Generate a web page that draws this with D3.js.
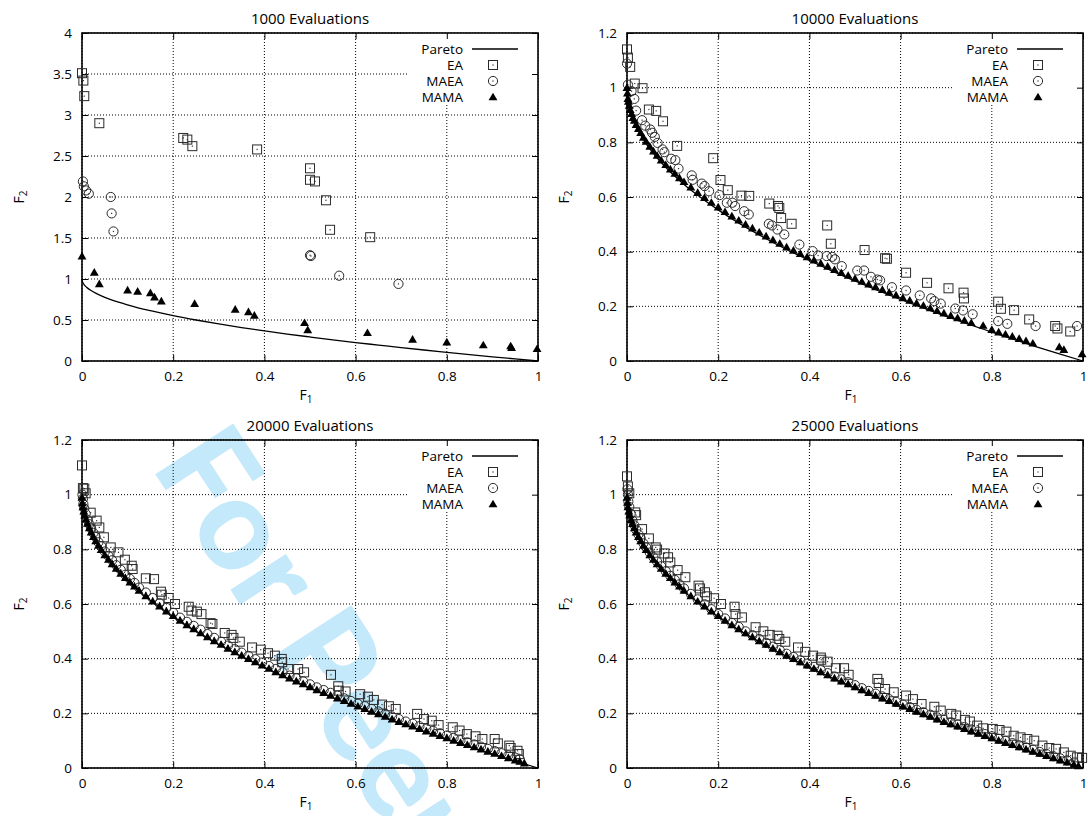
<!DOCTYPE html>
<html>
<head>
<meta charset="utf-8">
<script src="https://cdn.jsdelivr.net/npm/d3@7"></script>
<style>
  body { margin: 0; background: #fff; }
  svg { display: block; font-family: "Open Sans", sans-serif; }
</style>
</head>
<body>
<svg id="chart" width="1088" height="816"></svg>
<script>
// ---- data ----
const xTicks = [0, 0.2, 0.4, 0.6, 0.8, 1];
const yTicksWide = [0, 0.5, 1, 1.5, 2, 2.5, 3, 3.5, 4];
const yTicksNarrow = [0, 0.2, 0.4, 0.6, 0.8, 1, 1.2];
const titles = ["1000 Evaluations", "10000 Evaluations", "20000 Evaluations", "25000 Evaluations"];
const legendNames = ["Pareto", "EA", "MAEA", "MAMA"];

// true front, same in every panel
const pareto = [[0,1],[0.001,0.968],[0.003,0.945],[0.005,0.929],[0.01,0.9],[0.02,0.859],[0.03,0.827],[0.04,0.8],
  [0.06,0.755],[0.08,0.717],[0.1,0.684],[0.125,0.646],[0.15,0.613],[0.2,0.553],[0.25,0.5],[0.3,0.452],[0.35,0.408],
  [0.4,0.368],[0.45,0.329],[0.5,0.293],[0.55,0.258],[0.6,0.225],[0.65,0.194],[0.7,0.163],[0.75,0.134],[0.8,0.106],
  [0.85,0.078],[0.9,0.051],[0.95,0.025],[1,0]];

// 1000 evaluations
const ea1000 = [[0,3.51],[0.003,3.42],[0.005,3.23],[0.038,2.9],[0.222,2.72],[0.231,2.70],[0.242,2.62],[0.384,2.58],
  [0.5,2.35],[0.5,2.21],[0.511,2.19],[0.535,1.96],[0.544,1.6],[0.632,1.51]];
const maea1000 = [[0.002,2.19],[0.004,2.13],[0.009,2.08],[0.015,2.04],[0.063,2.0],[0.065,1.8],[0.069,1.58],
  [0.5,1.29],[0.502,1.28],[0.564,1.04],[0.694,0.94]];
const mama1000 = [[0,1.28],[0.027,1.08],[0.038,0.94],[0.1,0.865],[0.122,0.85],[0.15,0.83],[0.159,0.78],[0.174,0.73],
  [0.247,0.70],[0.336,0.63],[0.365,0.60],[0.378,0.556],[0.488,0.467],[0.495,0.38],[0.626,0.345],[0.725,0.264],
  [0.8,0.23],[0.88,0.195],[0.94,0.183],[0.942,0.162],[0.998,0.15]];

// 10000 evaluations
const ea10000 = [[0,1.14],[0.002,1.11],[0.007,1.076],[0.017,1.015],[0.034,0.998],[0.048,0.92],[0.064,0.915],
  [0.079,0.877],[0.11,0.787],[0.189,0.742],[0.205,0.662],[0.221,0.625],[0.251,0.605],[0.268,0.604],[0.312,0.576],
  [0.331,0.567],[0.334,0.56],[0.338,0.523],[0.361,0.502],[0.439,0.496],[0.447,0.429],[0.521,0.406],[0.566,0.376],
  [0.57,0.374],[0.612,0.323],[0.658,0.286],[0.705,0.266],[0.738,0.25],[0.739,0.229],[0.814,0.217],[0.82,0.191],
  [0.849,0.186],[0.882,0.152],[0.939,0.128],[0.944,0.119],[0.972,0.108]];
const maea10000 = [[0,1.088],[0.002,1.011],[0.01,0.987],[0.016,0.959],[0.02,0.916],[0.033,0.881],[0.04,0.861],
  [0.051,0.847],[0.055,0.835],[0.061,0.82],[0.067,0.798],[0.078,0.774],[0.082,0.764],[0.097,0.74],[0.106,0.735],
  [0.113,0.704],[0.142,0.679],[0.144,0.663],[0.164,0.649],[0.17,0.64],[0.18,0.621],[0.203,0.607],[0.219,0.579],
  [0.231,0.579],[0.237,0.567],[0.257,0.548],[0.267,0.536],[0.311,0.502],[0.318,0.496],[0.33,0.481],[0.345,0.463],
  [0.378,0.426],[0.407,0.402],[0.419,0.386],[0.438,0.384],[0.45,0.381],[0.456,0.372],[0.471,0.347],[0.505,0.331],
  [0.52,0.331],[0.535,0.308],[0.549,0.298],[0.555,0.295],[0.581,0.27],[0.612,0.258],[0.642,0.24],[0.667,0.229],
  [0.674,0.219],[0.688,0.21],[0.72,0.192],[0.737,0.185],[0.758,0.171],[0.814,0.146],[0.834,0.136],[0.896,0.128],
  [0.987,0.128]];
const mama10000 = [[0,1.0],[0.001,0.98],[0.002,0.96],[0.003,0.95],[0.005,0.935],[0.007,0.92],[0.01,0.905],
  [0.013,0.89],[0.016,0.88],[0.02,0.865],[0.025,0.85],[0.03,0.835],[0.036,0.818],[0.042,0.803],[0.05,0.785],
  [0.058,0.768],[0.066,0.752],[0.075,0.735],[0.085,0.718],[0.095,0.702],[0.105,0.686],[0.115,0.67],[0.125,0.656],
  [0.14,0.636],[0.155,0.616],[0.17,0.598],[0.185,0.58],[0.2,0.563],[0.215,0.546],[0.23,0.53],[0.245,0.515],
  [0.26,0.5],[0.275,0.486],[0.29,0.471],[0.305,0.457],[0.32,0.443],[0.335,0.43],[0.35,0.417],[0.365,0.405],
  [0.38,0.393],[0.395,0.381],[0.41,0.369],[0.425,0.357],[0.44,0.346],[0.455,0.334],[0.47,0.323],[0.485,0.313],
  [0.5,0.302],[0.515,0.291],[0.53,0.281],[0.545,0.271],[0.56,0.261],[0.575,0.251],[0.59,0.241],[0.605,0.231],
  [0.62,0.222],[0.635,0.212],[0.65,0.203],[0.665,0.194],[0.68,0.184],[0.695,0.175],[0.71,0.166],[0.725,0.158],
  [0.74,0.149],[0.755,0.14],[0.781,0.13],[0.8,0.115],[0.815,0.106],[0.83,0.098],[0.845,0.09],[0.86,0.082],
  [0.875,0.074],[0.89,0.065],[0.948,0.052],[0.958,0.042],[0.998,0.026]];

// 20000 evaluations
const ea20000 = [[0,1.107],[0.002,1.024],[0.005,1.022],[0.008,1.005],[0.019,0.934],[0.032,0.905],[0.038,0.88],
  [0.048,0.844],[0.063,0.807],[0.08,0.789],[0.094,0.762],[0.109,0.74],[0.111,0.728],[0.14,0.694],[0.158,0.691],
  [0.173,0.645],[0.175,0.634],[0.19,0.622],[0.204,0.6],[0.234,0.59],[0.24,0.576],[0.252,0.572],[0.262,0.563],
  [0.282,0.53],[0.286,0.527],[0.313,0.494],[0.328,0.487],[0.332,0.476],[0.346,0.462],[0.373,0.441],[0.392,0.433],
  [0.408,0.42],[0.423,0.411],[0.438,0.399],[0.439,0.387],[0.452,0.362],[0.474,0.362],[0.487,0.35],[0.546,0.341],
  [0.562,0.299],[0.563,0.283],[0.578,0.28],[0.61,0.27],[0.627,0.261],[0.64,0.249],[0.658,0.232],[0.673,0.226],
  [0.688,0.216],[0.735,0.198],[0.75,0.179],[0.767,0.173],[0.782,0.157],[0.813,0.149],[0.828,0.137],[0.844,0.124],
  [0.863,0.116],[0.878,0.106],[0.905,0.106],[0.912,0.09],[0.937,0.082],[0.94,0.073],[0.955,0.063],[0.958,0.051]];
const maea20000 = [[0.001,1.0],[0.002,0.985],[0.003,0.965],[0.005,0.95],[0.008,0.93],[0.012,0.908],[0.016,0.892],
  [0.02,0.877],[0.025,0.86],[0.03,0.845],[0.036,0.826],[0.042,0.812],[0.05,0.792],[0.058,0.776],[0.066,0.76],
  [0.075,0.742],[0.085,0.725],[0.095,0.707],[0.105,0.692],[0.115,0.677],[0.125,0.66],[0.14,0.642],[0.155,0.622],
  [0.17,0.603],[0.185,0.586],[0.2,0.568],[0.215,0.55],[0.23,0.535],[0.245,0.52],[0.26,0.506],[0.275,0.49],
  [0.29,0.476],[0.305,0.462],[0.32,0.448],[0.335,0.435],[0.35,0.422],[0.365,0.41],[0.38,0.398],[0.395,0.386],
  [0.41,0.373],[0.425,0.362],[0.44,0.35],[0.455,0.338],[0.47,0.328],[0.485,0.317],[0.5,0.306],[0.515,0.295],
  [0.53,0.285],[0.545,0.275],[0.56,0.265],[0.575,0.255],[0.59,0.245],[0.605,0.235],[0.62,0.226],[0.635,0.216],
  [0.65,0.207],[0.665,0.198],[0.68,0.188],[0.695,0.179],[0.71,0.17],[0.725,0.162],[0.74,0.153],[0.755,0.144],
  [0.77,0.136],[0.785,0.127],[0.8,0.119],[0.815,0.11],[0.83,0.102],[0.845,0.094],[0.86,0.086],[0.875,0.078],
  [0.89,0.07],[0.905,0.062],[0.92,0.054],[0.935,0.046],[0.95,0.038],[0.96,0.032]];
const mama20000 = [[0,0.99],[0.001,0.97],[0.002,0.955],[0.004,0.94],[0.006,0.925],[0.009,0.91],[0.012,0.895],
  [0.016,0.878],[0.02,0.863],[0.025,0.846],[0.03,0.831],[0.036,0.814],[0.042,0.799],[0.05,0.78],[0.058,0.763],
  [0.066,0.747],[0.075,0.73],[0.085,0.712],[0.095,0.696],[0.105,0.68],[0.115,0.665],[0.125,0.65],[0.14,0.63],
  [0.155,0.61],[0.17,0.592],[0.185,0.574],[0.2,0.557],[0.215,0.54],[0.23,0.524],[0.245,0.509],[0.26,0.494],
  [0.275,0.48],[0.29,0.465],[0.305,0.452],[0.32,0.438],[0.335,0.425],[0.35,0.412],[0.365,0.4],[0.38,0.388],
  [0.395,0.376],[0.41,0.364],[0.425,0.352],[0.44,0.341],[0.455,0.329],[0.47,0.318],[0.485,0.308],[0.5,0.297],
  [0.515,0.286],[0.53,0.276],[0.545,0.266],[0.56,0.256],[0.575,0.246],[0.59,0.236],[0.605,0.226],[0.62,0.217],
  [0.635,0.207],[0.65,0.198],[0.665,0.189],[0.68,0.179],[0.695,0.17],[0.71,0.161],[0.725,0.153],[0.74,0.144],
  [0.755,0.135],[0.77,0.127],[0.785,0.118],[0.8,0.11],[0.815,0.101],[0.83,0.093],[0.845,0.085],[0.86,0.077],
  [0.875,0.069],[0.89,0.061],[0.905,0.053],[0.92,0.045],[0.935,0.037],[0.95,0.029],[0.96,0.024],[0.97,0.018]];

// 25000 evaluations
const ea25000 = [[0,1.067],[0.002,1.03],[0.005,1.005],[0.018,0.935],[0.02,0.925],[0.033,0.874],[0.048,0.84],
  [0.063,0.807],[0.066,0.799],[0.082,0.785],[0.09,0.771],[0.095,0.752],[0.111,0.724],[0.128,0.698],[0.157,0.667],
  [0.16,0.657],[0.171,0.643],[0.175,0.628],[0.191,0.621],[0.206,0.6],[0.236,0.59],[0.238,0.563],[0.252,0.551],
  [0.282,0.515],[0.299,0.5],[0.313,0.487],[0.33,0.484],[0.334,0.472],[0.347,0.462],[0.375,0.441],[0.391,0.425],
  [0.408,0.411],[0.425,0.404],[0.426,0.396],[0.44,0.389],[0.458,0.365],[0.476,0.365],[0.486,0.341],[0.549,0.326],
  [0.552,0.311],[0.566,0.289],[0.585,0.277],[0.612,0.265],[0.627,0.252],[0.646,0.234],[0.674,0.224],[0.688,0.21],
  [0.711,0.198],[0.722,0.192],[0.741,0.176],[0.752,0.17],[0.768,0.155],[0.781,0.145],[0.802,0.143],[0.817,0.139],
  [0.832,0.133],[0.848,0.118],[0.863,0.112],[0.878,0.106],[0.893,0.1],[0.911,0.082],[0.926,0.073],[0.941,0.07],
  [0.958,0.057],[0.973,0.045],[0.987,0.039],[0.998,0.037]];
const maea25000 = [[0.001,1.02],[0.002,1.0],[0.003,0.975],[0.005,0.955],[0.008,0.93],[0.012,0.905],[0.016,0.888],
  [0.02,0.872],[0.025,0.855],[0.03,0.84],[0.036,0.822],[0.042,0.807],[0.05,0.788],[0.058,0.771],[0.066,0.755],
  [0.075,0.738],[0.085,0.72],[0.095,0.703],[0.105,0.688],[0.115,0.672],[0.125,0.657],[0.14,0.637],[0.155,0.617],
  [0.17,0.599],[0.185,0.581],[0.2,0.563],[0.215,0.547],[0.23,0.531],[0.245,0.516],[0.26,0.5],[0.275,0.486],
  [0.29,0.472],[0.305,0.458],[0.32,0.444],[0.335,0.431],[0.35,0.418],[0.365,0.406],[0.38,0.394],[0.395,0.382],
  [0.41,0.37],[0.425,0.358],[0.44,0.347],[0.455,0.335],[0.47,0.324],[0.485,0.314],[0.5,0.303],[0.515,0.292],
  [0.53,0.282],[0.545,0.272],[0.56,0.262],[0.575,0.252],[0.59,0.242],[0.605,0.232],[0.62,0.223],[0.635,0.213],
  [0.65,0.204],[0.665,0.195],[0.68,0.185],[0.695,0.176],[0.71,0.167],[0.725,0.159],[0.74,0.15],[0.755,0.141],
  [0.77,0.133],[0.785,0.124],[0.8,0.116],[0.815,0.107],[0.83,0.099],[0.845,0.091],[0.86,0.083],[0.875,0.075],
  [0.89,0.067],[0.905,0.059],[0.92,0.051],[0.935,0.043],[0.95,0.035],[0.965,0.028],[0.98,0.02]];
const mama25000 = [[0,0.99],[0.001,0.972],[0.002,0.955],[0.004,0.94],[0.006,0.926],[0.009,0.909],[0.012,0.894],
  [0.016,0.878],[0.02,0.863],[0.025,0.846],[0.03,0.831],[0.036,0.814],[0.042,0.799],[0.05,0.78],[0.058,0.763],
  [0.066,0.747],[0.075,0.73],[0.085,0.712],[0.095,0.696],[0.105,0.68],[0.115,0.665],[0.125,0.65],[0.14,0.63],
  [0.155,0.61],[0.17,0.592],[0.185,0.574],[0.2,0.557],[0.215,0.54],[0.23,0.524],[0.245,0.509],[0.26,0.494],
  [0.275,0.48],[0.29,0.465],[0.305,0.452],[0.32,0.438],[0.335,0.425],[0.35,0.412],[0.365,0.4],[0.38,0.388],
  [0.395,0.376],[0.41,0.364],[0.425,0.352],[0.44,0.341],[0.455,0.329],[0.47,0.318],[0.485,0.308],[0.5,0.297],
  [0.515,0.286],[0.53,0.276],[0.545,0.266],[0.56,0.256],[0.575,0.246],[0.59,0.236],[0.605,0.226],[0.62,0.217],
  [0.635,0.207],[0.65,0.198],[0.665,0.189],[0.68,0.179],[0.695,0.17],[0.71,0.161],[0.725,0.153],[0.74,0.144],
  [0.755,0.135],[0.77,0.127],[0.785,0.118],[0.8,0.11],[0.815,0.101],[0.83,0.093],[0.845,0.085],[0.86,0.077],
  [0.875,0.069],[0.89,0.061],[0.905,0.053],[0.92,0.045],[0.935,0.037],[0.95,0.029],[0.965,0.021],[0.98,0.013],
  [0.99,0.008]];

// ---- layout ----
const W = 456, H = 328;
const panels = [
  { left: 82,  top: 33,  title: titles[0], yMax: 4,   yTicks: yTicksWide,   ea: ea1000,  maea: maea1000,  mama: mama1000 },
  { left: 627, top: 33,  title: titles[1], yMax: 1.2, yTicks: yTicksNarrow, ea: ea10000, maea: maea10000, mama: mama10000 },
  { left: 82,  top: 440, title: titles[2], yMax: 1.2, yTicks: yTicksNarrow, ea: ea20000, maea: maea20000, mama: mama20000 },
  { left: 627, top: 440, title: titles[3], yMax: 1.2, yTicks: yTicksNarrow, ea: ea25000, maea: maea25000, mama: mama25000 }
];

const svg = d3.select("#chart");
const fmt = d => String(+d.toFixed(2));
const tri = d3.symbol().type(d3.symbolTriangle).size(34);

// watermark sits behind the plots (runs off the page like the original)
svg.append("text").attr("transform", "translate(150,466) rotate(57)")
  .attr("font-family", "Lato").attr("font-weight", 900).attr("font-size", 128)
  .attr("fill", "#c4e9fa").text("For Peer");

function drawSquare(g, x, y) {
  g.append("rect").attr("x", x - 4.5).attr("y", y - 4.5).attr("width", 9).attr("height", 9)
    .attr("fill", "none").attr("stroke", "#2a2a2a").attr("stroke-width", 1);
  g.append("rect").attr("x", x - 0.6).attr("y", y - 0.6).attr("width", 1.2).attr("height", 1.2).attr("fill", "#333");
}
function drawCircle(g, x, y) {
  g.append("circle").attr("cx", x).attr("cy", y).attr("r", 4.6)
    .attr("fill", "none").attr("stroke", "#2a2a2a").attr("stroke-width", 1);
  g.append("rect").attr("x", x - 0.6).attr("y", y - 0.6).attr("width", 1.2).attr("height", 1.2).attr("fill", "#333");
}
function drawTriangle(g, x, y) {
  g.append("path").attr("d", tri).attr("transform", `translate(${x},${y + 0.8})`).attr("fill", "#000");
}

panels.forEach(p => {
  const g = svg.append("g").attr("transform", `translate(${p.left},${p.top})`);
  const x = d3.scaleLinear().domain([0, 1]).range([0, W]);
  const y = d3.scaleLinear().domain([0, p.yMax]).range([H, 0]);

  // dotted grid
  g.append("g").selectAll("line").data(xTicks).join("line")
    .attr("x1", d => x(d)).attr("x2", d => x(d)).attr("y1", 0).attr("y2", H)
    .attr("stroke", "#000").attr("stroke-width", 1).attr("stroke-dasharray", "1,2");
  g.append("g").selectAll("line").data(p.yTicks).join("line")
    .attr("x1", 0).attr("x2", W).attr("y1", d => y(d)).attr("y2", d => y(d))
    .attr("stroke", "#000").attr("stroke-width", 1).attr("stroke-dasharray", "1,2");

  // key background hides the grid
  g.append("rect").attr("x", W - 130).attr("y", 0).attr("width", 130).attr("height", 72).attr("fill", "#fff");

  // axes, ticks pointing inward on all four sides
  const axB = g.append("g").attr("transform", `translate(0,${H})`)
    .call(d3.axisBottom(x).tickValues(xTicks).tickFormat(fmt).tickSizeInner(-6).tickSizeOuter(0).tickPadding(10));
  const axT = g.append("g")
    .call(d3.axisTop(x).tickValues(xTicks).tickFormat("").tickSizeInner(-6).tickSizeOuter(0));
  const axL = g.append("g")
    .call(d3.axisLeft(y).tickValues(p.yTicks).tickFormat(fmt).tickSizeInner(-6).tickSizeOuter(0).tickPadding(10));
  const axR = g.append("g").attr("transform", `translate(${W},0)`)
    .call(d3.axisRight(y).tickValues(p.yTicks).tickFormat("").tickSizeInner(-6).tickSizeOuter(0));
  [axB, axT, axL, axR].forEach(a => {
    a.select(".domain").remove();
    a.selectAll("line").attr("stroke", "#000").attr("stroke-width", 1);
    a.selectAll("text").attr("font-family", "Open Sans").attr("font-size", 13.5).attr("fill", "#000");
  });
  g.append("rect").attr("width", W).attr("height", H).attr("fill", "none").attr("stroke", "#000").attr("stroke-width", 1.6);

  // pareto front
  g.append("path").datum(pareto)
    .attr("d", d3.line().x(d => x(d[0])).y(d => y(d[1])).curve(d3.curveMonotoneX))
    .attr("fill", "none").attr("stroke", "#000").attr("stroke-width", 1.3);

  // series
  const pts = g.append("g");
  p.ea.forEach(d => drawSquare(pts, x(d[0]), y(d[1])));
  p.maea.forEach(d => drawCircle(pts, x(d[0]), y(d[1])));
  p.mama.forEach(d => drawTriangle(pts, x(d[0]), y(d[1])));

  // key
  const key = g.append("g");
  legendNames.forEach((name, i) => {
    const ky = 16 + i * 16;
    key.append("text").attr("x", W - 75).attr("y", ky).attr("text-anchor", "end").attr("fill", "#000")
      .attr("dominant-baseline", "central").attr("font-size", 13.5).text(name);
    if (i === 0) key.append("line").attr("x1", W - 66).attr("x2", W - 20).attr("y1", ky).attr("y2", ky)
      .attr("stroke", "#000").attr("stroke-width", 1.3);
    if (i === 1) drawSquare(key, W - 45, ky);
    if (i === 2) drawCircle(key, W - 45, ky);
    if (i === 3) drawTriangle(key, W - 45, ky);
  });

  // titles and axis labels
  g.append("text").attr("x", W / 2).attr("y", -15).attr("text-anchor", "middle").attr("fill", "#000")
    .attr("dominant-baseline", "central").attr("font-size", 15).text(p.title);
  const xl = g.append("text").attr("x", W / 2 - 4).attr("y", H + 39).attr("text-anchor", "middle")
    .attr("font-size", 14).attr("fill", "#000");
  xl.append("tspan").text("F");
  xl.append("tspan").attr("font-size", 10).attr("dy", 3).text("1");
  const yl = g.append("text").attr("transform", `translate(${-58},${H / 2}) rotate(-90)`)
    .attr("text-anchor", "middle").attr("font-size", 14).attr("fill", "#000");
  yl.append("tspan").text("F");
  yl.append("tspan").attr("font-size", 10).attr("dy", 3).text("2");
});
</script>
</body>
</html>
